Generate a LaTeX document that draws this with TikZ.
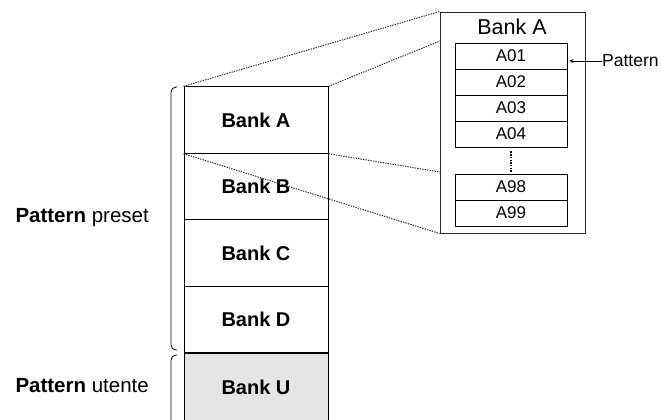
\documentclass[tikz,border=0pt]{standalone}
\usepackage{fontspec}
\setmainfont{Liberation Sans}
\usepackage{tikz}

\begin{document}
\begin{tikzpicture}[x=1bp,y=-1bp]
\tikzstyle{pointille}=[line width=1bp,black!85,dash pattern=on 1.3bp off 1.2bp]
\tikzstyle{crochet}=[line width=0.8bp,rounded corners=5bp]
\tikzset{banque/.style={draw,line width=0.9bp,fill=#1,minimum width=144bp,minimum height=66.5bp,inner sep=0pt,
font=\fontsize{20bp}{24bp}\selectfont\bfseries},
banque/.default={white},
case/.style={draw,line width=0.9bp,minimum width=112bp,minimum height=26bp,inner sep=0pt,
font=\fontsize{17bp}{19bp}\selectfont}}
\useasboundingbox (0,0) rectangle (661,419);

% colonne des banques
\node[banque] (bkA) at (256,120) {Bank A};
\node[banque] (bkB) at (256,186.5) {Bank B};
\node[banque] (bkC) at (256,253) {Bank C};
\node[banque] (bkD) at (256,319.5) {Bank D};
\node[banque=black!10,minimum height=72bp] (bkU) at (256,389) {\raisebox{3bp}{Bank U}};

\draw[crochet] (177,87) -- (171,87) -- (171,350) -- (177,350);
\draw[crochet] (177,355) -- (171,355) -- (171,430) -- (177,430);
\node[anchor=base west,font=\fontsize{20.5bp}{24bp}\selectfont] (preset) at (12,222.7) {\textbf{Pattern} preset};
\node[anchor=base west,font=\fontsize{20.5bp}{24bp}\selectfont] (utente) at (12,392) {\textbf{Pattern} utente};

% detail de la banque A
\node[draw,line width=0.9bp,black!85,text=black,minimum width=145bp,minimum height=221bp] (zoomA) at (512.5,122.5) {};
\node[font=\fontsize{21.5bp}{24bp}\selectfont] (titre) at (512,27) {Bank A};
\foreach \n [count=\i] in {01,02,03,04}
  \node[case] (c\n) at (511,30+26*\i) {A\n};
\node[case] (c98) at (511,187) {A98};
\node[case] (c99) at (511,213) {A99};
\draw[line width=1.4bp,dash pattern=on 1.4bp off 1.3bp,shorten <=4bp,shorten >=2bp] (c04) -- (c98);

\node[anchor=west,inner sep=0pt,font=\fontsize{17.5bp}{19bp}\selectfont] (pat) at (602,61) {Pattern};
\draw[<-,>=stealth,line width=0.8bp,shorten <=2bp] (c01.east |- pat.west) -- (pat.west);

\coordinate (z1) at (440,41);
\coordinate (z2) at (440,172);
\draw[pointille] (bkA.north west) -- (zoomA.north west);
\draw[pointille] (bkA.north east) -- (z1);
\draw[pointille] (bkA.south east) -- (z2);
\draw[pointille] (bkA.south west) -- (zoomA.south west);

\end{tikzpicture}
\end{document}
